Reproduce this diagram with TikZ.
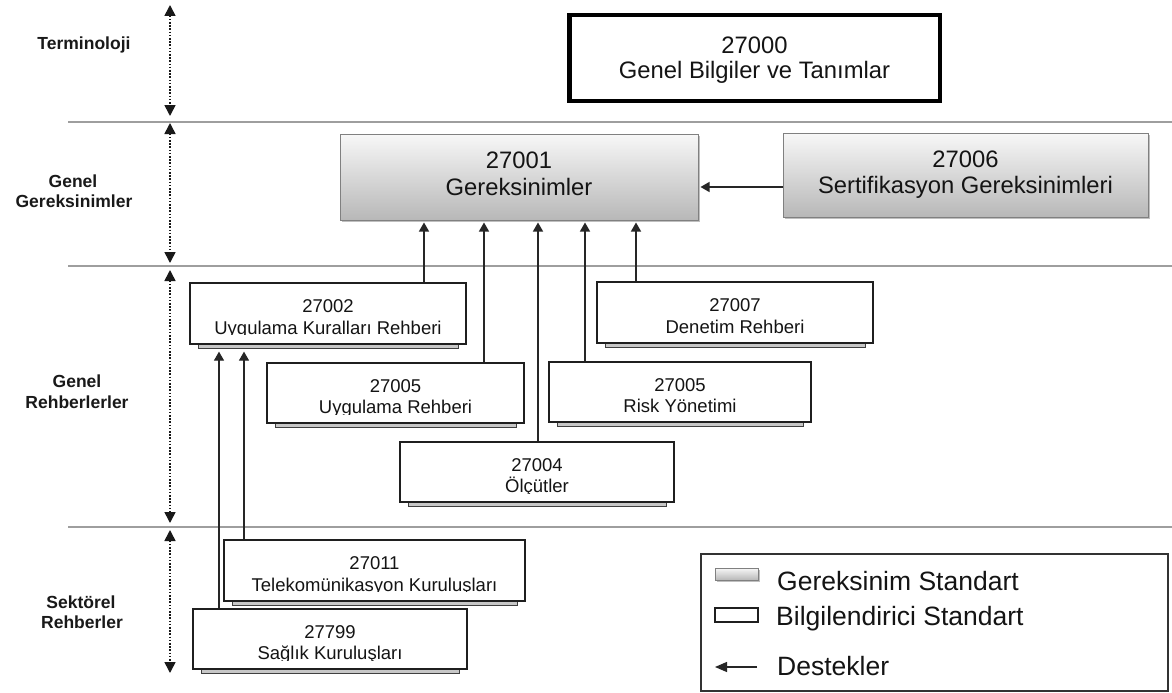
\documentclass[tikz,border=0pt]{standalone}
\usepackage{fontspec}
\setmainfont{Liberation Sans}
\usetikzlibrary{arrows.meta,shadows,calc}

% Small informative standard box: name, x1, y1, x2, y2, number, title
\newcommand{\infobox}[7]{%
  \filldraw[boxshade] ({#2+8},{#5-1}) rectangle ({#4-8},{#5+4});
  \node[infobox, minimum width={(#4-#2)*1pt}, minimum height={(#5-#3)*1pt}]
    (#1) at ({(#2+#4)/2},{(#3+#5)/2}) {};
  \node[numtext] (#1-num) at ({(#2+#4)/2},{(#3+#5)/2-1}) {#6};
  \begin{scope}
    \clip ({#2+2},{#3+2}) rectangle ({#4-2},{(#3+#5)/2+21});
    \node[numtext] (#1-title) at ({(#2+#4)/2},{(#3+#5)/2+20.5}) {#7};
  \end{scope}
}

\begin{document}
\begin{tikzpicture}[x=1pt,y=-1pt,
  band/.style={draw=black!38, line width=2pt},
  axisline/.style={draw=black!90, line width=1.6pt, dash pattern=on 1.6pt off 1.6pt,
    {Triangle[length=11pt,width=11pt]}-{Triangle[length=11pt,width=11pt]}},
  levellabel/.style={font=\bfseries\fontsize{17.5}{20}\selectfont, text=black!90, anchor=base, inner sep=0},
  infobox/.style={draw=black!88, line width=1.3pt, fill=white, inner sep=0},
  boxshade/.style={draw=black!75, line width=0.8pt, fill=black!22},
  numtext/.style={font=\fontsize{18.5}{21}\selectfont, anchor=base, inner sep=0, text=black!92},
  reqbox/.style={draw=black!50, line width=1pt, top color=black!3, bottom color=black!28, inner sep=0,
    drop shadow={shadow xshift=2pt, shadow yshift=-2pt, opacity=0.25, fill=black}},
  bignum/.style={font=\fontsize{23.8}{26}\selectfont, anchor=base, inner sep=0, text=black!92},
  legendtext/.style={font=\fontsize{26.5}{28}\selectfont, anchor=base west, inner sep=0, text=black!92},
  supports/.style={draw=black!85, line width=1.3pt, -{Triangle[length=9pt,width=10pt]}, shorten >=2pt}
]
\useasboundingbox (0,0) rectangle (1172,693);
\fill[white] (0,0) rectangle (1172,693);

% level separators
\draw[band] (68,122) -- (1172,122);
\draw[band] (68,266) -- (1172,266);
\draw[band] (68,527) -- (1172,527);

% level axis
\coordinate (ax1t) at (170,5);   \coordinate (ax1b) at (170,116);
\coordinate (ax2t) at (170,123); \coordinate (ax2b) at (170,263);
\coordinate (ax3t) at (170,270); \coordinate (ax3b) at (170,523);
\coordinate (ax4t) at (170,530); \coordinate (ax4b) at (170,673);
\draw[axisline] (ax1t) -- (ax1b);
\draw[axisline] (ax2t) -- (ax2b);
\draw[axisline] (ax3t) -- (ax3b);
\draw[axisline] (ax4t) -- (ax4b);

% level names
\node[levellabel] (lv1) at (84,49) {Terminoloji};
\node[levellabel] (lv2a) at (73,187) {Genel};
\node[levellabel] (lv2b) at (74,207) {Gereksinimler};
\node[levellabel] (lv3a) at (77,387) {Genel};
\node[levellabel] (lv3b) at (77,408) {Rehberlerler};
\node[levellabel] (lv4a) at (81,608) {Sektörel};
\node[levellabel] (lv4b) at (82,628) {Rehberler};

% 27000
\node[draw=black, line width=4.5pt, fill=white, inner sep=0, minimum width=370.5pt, minimum height=85.5pt]
  (n27000) at (754.5,58) {};
\node[bignum] (n27000-num) at (754.5,53) {27000};
\node[bignum] (n27000-title) at (754.5,78) {Genel Bilgiler ve Tanımlar};

% requirement standards
\node[reqbox, minimum width=358pt, minimum height=86pt] (n27001) at (519,177) {};
\node[bignum] (n27001-num) at (519,168) {27001};
\node[bignum] (n27001-title) at (519,195) {Gereksinimler};

\node[reqbox, minimum width=365pt, minimum height=84pt] (n27006) at (965.5,175) {};
\node[bignum] (n27006-num) at (965.5,167) {27006};
\node[bignum] (n27006-title) at (965.5,193) {Sertifikasyon Gereksinimleri};

% informative standards
\infobox{n27002}{190}{283}{466}{344}{27002}{Uygulama Kuralları Rehberi}
\infobox{n27007}{597}{282}{873}{343}{27007}{Denetim Rehberi}
\infobox{n27005u}{267}{363}{524}{423}{27005}{Uygulama Rehberi}
\infobox{n27005r}{549}{362}{811}{422}{27005}{Risk Yönetimi}
\infobox{n27004}{400}{442}{674}{502}{27004}{Ölçütler}
\infobox{n27011}{224}{540}{525}{601}{27011}{Telekomünikasyon Kuruluşları}
\infobox{n27799}{193}{609}{467}{669}{27799}{Sağlık Kuruluşları}

% support relations
\coordinate (c1) at (424,0);
\coordinate (c2) at (484,0);
\coordinate (c3) at (538,0);
\coordinate (c4) at (585,0);
\coordinate (c5) at (636,0);
\coordinate (c6) at (219,0);
\coordinate (c7) at (244,0);
\coordinate (c8) at (0,187);
\draw[supports] (n27002.north -| c1) -- (n27001.south -| c1);
\draw[supports] (n27005u.north -| c2) -- (n27001.south -| c2);
\draw[supports] (n27004.north -| c3) -- (n27001.south -| c3);
\draw[supports] (n27005r.north -| c4) -- (n27001.south -| c4);
\draw[supports] (n27007.north -| c5) -- (n27001.south -| c5);
\draw[supports] (n27006.west |- c8) -- (n27001.east |- c8);
\draw[supports, shorten >=7pt] (n27799.north -| c6) -- (n27002.south -| c6);
\draw[supports, shorten >=7pt] (n27011.north -| c7) -- (n27002.south -| c7);

% legend
\node[draw=black!80, line width=1.2pt, inner sep=0, minimum width=467pt, minimum height=137pt]
  (legend) at (934.5,622.5) {};
\node[reqbox, minimum width=43pt, minimum height=12pt] (lg1) at (736.5,574) {};
\node[legendtext] (lg1-text) at (777,590) {Gereksinim Standart};
\node[infobox, line width=1.2pt, minimum width=43pt, minimum height=14pt] (lg2) at (736.5,615) {};
\node[legendtext] (lg2-text) at (776,625) {Bilgilendirici Standart};
\coordinate (lg3a) at (757,667);
\coordinate (lg3b) at (715,667);
\draw[supports, shorten >=0pt, -{Triangle[length=12pt,width=10pt]}] (lg3a) -- (lg3b);
\node[legendtext] (lg3-text) at (777,675) {Destekler};
\end{tikzpicture}
\end{document}
